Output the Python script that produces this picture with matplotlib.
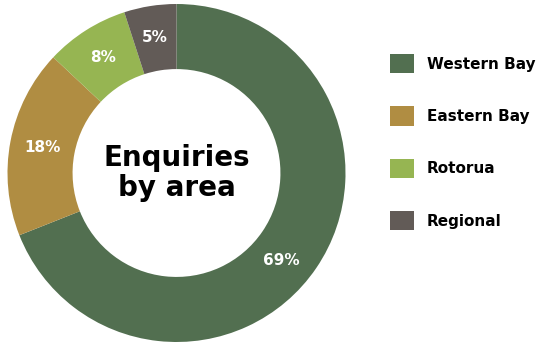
import numpy as np
import matplotlib.pyplot as plt
from matplotlib.patches import Patch

# Data
areas = ["Western Bay", "Eastern Bay", "Rotorua", "Regional"]
shares = [69, 18, 8, 5]
colours = ["#526F50", "#B08D42", "#96B552", "#625B57"]

plt.rcParams['font.family'] = ['DejaVu Sans']

fig = plt.figure(figsize=(5.44, 3.42), dpi=100)

# donut axes, centre around (176, 173) px, radius ~169 px
ax = fig.add_axes([7.5 / 544, 0.0, 338 / 544, 338 / 342])
wedges, texts, autotexts = ax.pie(
    shares,
    colors=colours,
    startangle=90,
    counterclock=False,
    radius=1.0,
    wedgeprops=dict(width=0.385, edgecolor='none'),
    autopct='%d%%',
    pctdistance=0.81,
)
for t in autotexts:
    t.set_color("white")
    t.set_fontsize(11)
    t.set_fontweight("bold")
# the big slice label sits a bit lower than the mid-angle
a = np.deg2rad(-40)
autotexts[0].set_position((0.81 * np.cos(a), 0.81 * np.sin(a)))

ax.set_xlim(-1, 1)
ax.set_ylim(-1, 1)
ax.set_aspect('equal')

# centre title
ax.text(0, 0.0, "Enquiries\nby area", ha='center', va='center',
        fontsize=20, fontweight='heavy', linespacing=1.12, color='black')

# legend
handles = [Patch(facecolor=c, edgecolor='none') for c in colours]
fig.legend(handles, areas, loc='upper left', bbox_to_anchor=(384 / 544, 1 - 48 / 342),
           frameon=False, prop={'weight': 'bold', 'size': 11},
           handlelength=1.55, handleheight=1.55, labelspacing=2.17,
           handletextpad=0.85, borderaxespad=0)

fig.savefig("out.png", dpi=100)
